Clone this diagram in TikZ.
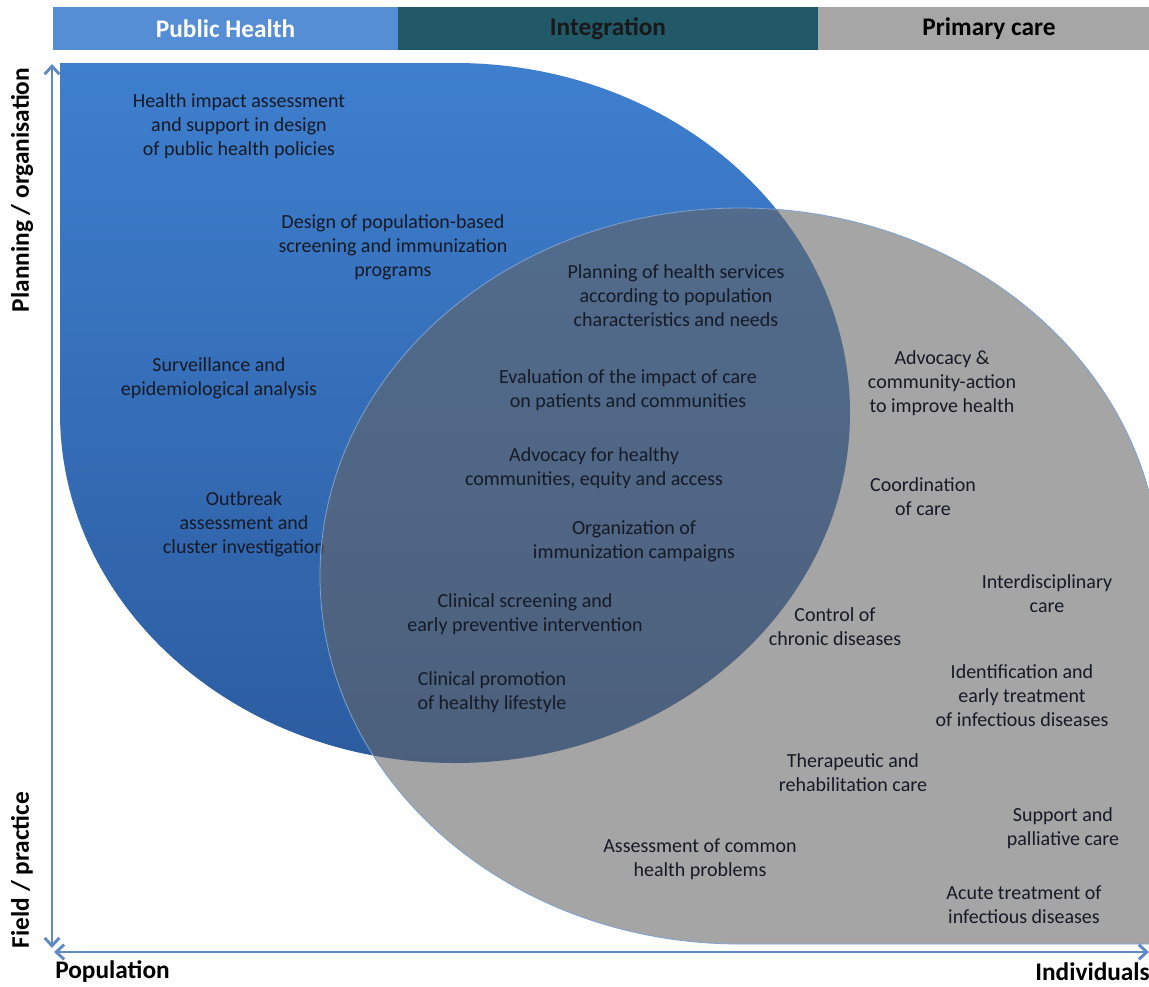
\documentclass[tikz,border=0pt]{standalone}
\usepackage{fontspec}
\setmainfont{Carlito}
\usetikzlibrary{arrows.meta}
\definecolor{phblue}{RGB}{85,142,213}
\definecolor{intteal}{RGB}{33,89,104}
\definecolor{pcgray}{RGB}{166,166,166}
\definecolor{blobtop}{RGB}{62,127,206}
\definecolor{blobbot}{RGB}{44,92,160}
\definecolor{veil}{RGB}{100,100,100}
\definecolor{axisblue}{RGB}{95,138,198}
\definecolor{ink}{RGB}{22,26,38}

\tikzset{
  hdr/.style={minimum height=32.25pt, inner sep=0, font=\fontsize{19}{22}\selectfont\bfseries},
  item/.style={align=center, inner sep=0, text=ink, font=\fontsize{15}{18}\selectfont},
  axlabel/.style={inner sep=0, text=black, font=\fontsize{19}{22}\selectfont\bfseries},
  axisline/.style={draw=axisblue, line width=2.2pt,
    {Straight Barb[length=6pt,width=11pt]}-{Straight Barb[length=6pt,width=11pt]}}
}

\begin{document}
\begin{tikzpicture}[x=0.75pt, y=-0.75pt]
\clip (0,0) rectangle (1149,986);
\fill[white] (0,0) rectangle (1149,986);

% header bar
\node[hdr, fill=phblue, text=white, minimum width=258.75pt] (ph) at (225.5,28.5) {Public Health};
\node[hdr, fill=intteal, text=black!90, minimum width=315pt] (int) at (608,28.5) {Integration};
\node[hdr, fill=pcgray, text=black, minimum width=256.5pt] (pc) at (989,28.5) {Primary care};

% public health area
\shade[top color=blobtop, bottom color=blobbot]
  (60,63) -- (455,63) arc[start angle=-90, end angle=180, x radius=395, y radius=350] -- cycle;

\node[item] (hia) at (239,126) {Health impact assessment\\and support in design\\of public health policies};
\node[item] (scr) at (393,247) {Design of population-based\\screening and immunization\\programs};
\node[item] (surv) at (219,378) {Surveillance and\\epidemiological analysis};
\node[item] (outb) at (244,524) {Outbreak\\assessment and\\cluster investigation};

% primary care area
\filldraw[fill=veil, fill opacity=0.58, draw=axisblue!80, line width=0.6pt]
  (740,944) arc[start angle=90, end angle=360, x radius=420, y radius=368] -- (1160,944) -- cycle;

% integration
\node[item] (plan) at (676,296) {Planning of health services\\according to population\\characteristics and needs};
\node[item] (eval) at (628,390) {Evaluation of the impact of care\\on patients and communities};
\node[item] (advh) at (594,468) {Advocacy for healthy\\communities, equity and access};
\node[item] (camp) at (634,541) {Organization of\\immunization campaigns};
\node[item] (clscr) at (525,614) {Clinical screening and\\early preventive intervention};
\node[item] (clpro) at (492,692) {Clinical promotion\\of healthy lifestyle};

% primary care
\node[item] (advc) at (942,383) {Advocacy \&\\community-action\\to improve health};
\node[item] (coord) at (923,497) {Coordination\\of care};
\node[item] (inter) at (1047,594) {Interdisciplinary\\care};
\node[item] (chron) at (835,627) {Control of\\chronic diseases};
\node[item] (ident) at (1022,696) {Identification and\\early treatment\\of infectious diseases};
\node[item] (ther) at (853,773) {Therapeutic and\\rehabilitation care};
\node[item] (pall) at (1063,828) {Support and\\palliative care};
\node[item] (asse) at (700,859) {Assessment of common\\health problems};
\node[item] (acute) at (1024,905) {Acute treatment of\\infectious diseases};

% axes
\coordinate (top) at (52,64);
\coordinate (bot) at (52,948);
\coordinate (lft) at (54,952);
\coordinate (rgt) at (1149,952);
\draw[axisline] (bot) -- (top);
\draw[axisline] (lft) -- (rgt);

\node[axlabel, rotate=90] (plo) at (22,190) {Planning / organisation};
\node[axlabel, rotate=90] (fld) at (22,870) {Field / practice};
\node[axlabel, anchor=west] (pop) at (55,972) {Population};
\node[axlabel, anchor=east] (ind) at (1150,972) {Individuals};

\end{tikzpicture}
\end{document}
